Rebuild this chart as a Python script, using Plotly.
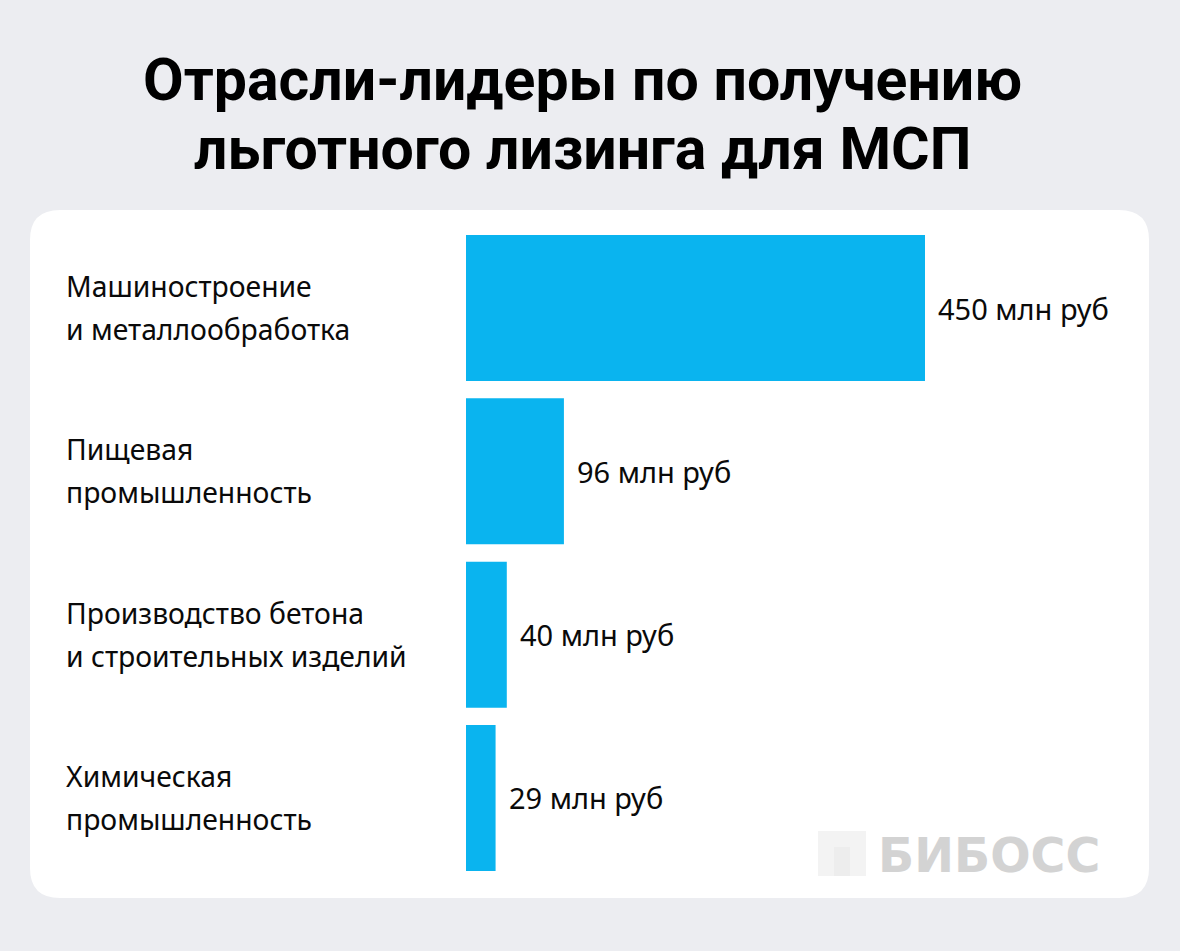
import plotly.graph_objects as go

categories = ["Машиностроение\nи металлообработка",
              "Пищевая\nпромышленность",
              "Производство бетона\nи строительных изделий",
              "Химическая\nпромышленность"]
values = [450, 96, 40, 29]
value_labels = ["450 млн руб", "96 млн руб", "40 млн руб", "29 млн руб"]

W, H = 1180, 951
BG = "#ECEDF1"
BAR = "#0AB4EF"
FONT = "Noto Sans"

def px(x):
    return x / W

def py(y):
    return 1 - y / H

fig = go.Figure()
fig.add_trace(go.Bar(
    x=values, y=categories, orientation="h",
    marker=dict(color=BAR, line=dict(width=0)),
    hoverinfo="skip", showlegend=False,
))

annotations = []
for cat, v, lab in zip(categories, values, value_labels):
    annotations.append(dict(x=v, y=cat, xref="x", yref="y", text=lab,
                            showarrow=False, xanchor="left", yanchor="middle",
                            xshift=11, font=dict(family=FONT, size=29, color="#0A0A0A")))
    lines = cat.split("\n")
    for i, ln in enumerate(lines):
        annotations.append(dict(x=px(64), y=cat, xref="paper", yref="y", text=ln,
                                showarrow=False, xanchor="left", yanchor="middle",
                                yshift=22 - 43 * i,
                                font=dict(family=FONT, size=28.3, color="#0A0A0A")))

# title
title_lines = ["Отрасли-лидеры по получению", "льготного лизинга для МСП"]
for i, t in enumerate(title_lines):
    annotations.append(dict(x=0.494, y=py(79 + 69 * i), xref="paper", yref="paper", text="<b>" + t + "</b>",
                            showarrow=False, xanchor="center", yanchor="middle",
                            font=dict(family="Roboto", size=59, color="#000000")))
# watermark
annotations.append(dict(x=px(876), y=py(855), xref="paper", yref="paper", text="<b>БИБОСС</b>",
                        showarrow=False, xanchor="left", yanchor="middle",
                        font=dict(family="DejaVu Sans", size=47.5, color="#D3D3D3")))

# rounded card
x0, x1, y0, y1, r = px(30), px(1149), py(898), py(210), 30
rx, ry = r / W, r / H
card_path = (f"M {x0+rx},{y1} L {x1-rx},{y1} Q {x1},{y1} {x1},{y1-ry} "
             f"L {x1},{y0+ry} Q {x1},{y0} {x1-rx},{y0} L {x0+rx},{y0} "
             f"Q {x0},{y0} {x0},{y0+ry} L {x0},{y1-ry} Q {x0},{y1} {x0+rx},{y1} Z")
shapes = [
    dict(type="path", path=card_path, xref="paper", yref="paper",
         fillcolor="white", line=dict(width=0), layer="below"),
    dict(type="rect", x0=px(818), x1=px(866), y0=py(876), y1=py(831), xref="paper", yref="paper",
         fillcolor="#F3F3F3", line=dict(width=0), layer="below"),
    dict(type="rect", x0=px(834), x1=px(850), y0=py(876), y1=py(847), xref="paper", yref="paper",
         fillcolor="#EDEDED", line=dict(width=0), layer="below"),
]

pitch = 163.3
ytop = 308 - pitch / 2
ybot = 798 + pitch / 2
fig.update_layout(
    width=W, height=H,
    paper_bgcolor=BG, plot_bgcolor="rgba(0,0,0,0)",
    margin=dict(l=0, r=0, t=0, b=0),
    xaxis=dict(domain=[px(466), 1], range=[0, (W - 466) / 1.02],
               visible=False, fixedrange=True),
    yaxis=dict(domain=[py(ybot), py(ytop)], autorange="reversed",
               visible=False, fixedrange=True),
    bargap=1 - 146 / pitch,
    annotations=annotations,
    shapes=shapes,
)

fig.write_html("out.html", config={"displayModeBar": False},
               post_script="document.body.style.margin='0';document.body.style.background='#ECEDF1';document.body.style.overflow='hidden';")
